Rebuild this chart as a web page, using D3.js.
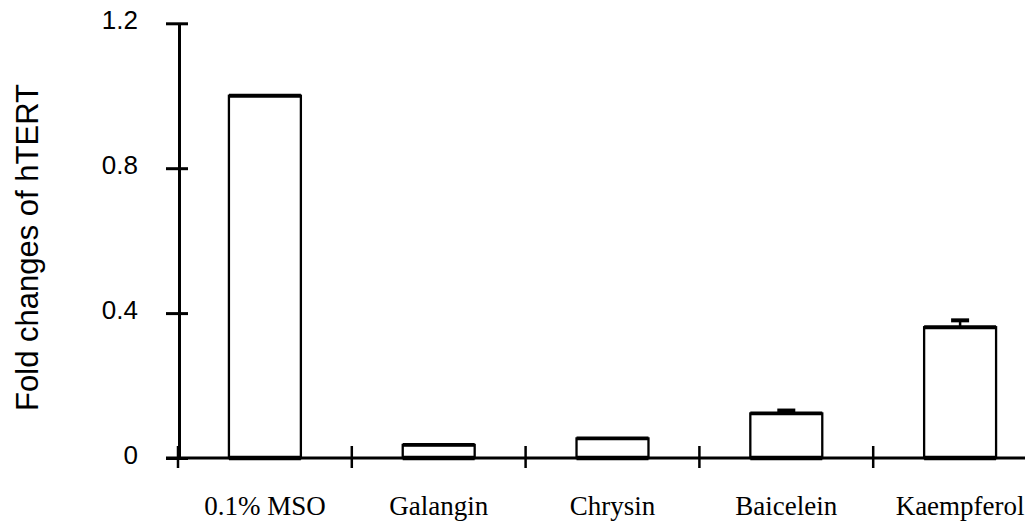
<!DOCTYPE html>
<html>
<head>
<meta charset="utf-8">
<script src="https://cdn.jsdelivr.net/npm/d3@7/dist/d3.min.js"></script>
<style>
  html, body { margin: 0; padding: 0; background: #fff; }
  svg { display: block; }
</style>
</head>
<body>
<svg id="chart" width="1025" height="521"></svg>
<script>
const categories = ["0.1% MSO", "Galangin", "Chrysin", "Baicelein", "Kaempferol"];
const values = [1.0, 0.036, 0.054, 0.123, 0.361];
const errors = [0, 0, 0, 0.008, 0.019];
const yTicks = [0, 0.4, 0.8, 1.2];
const yTickLabels = ["0", "0.4", "0.8", "1.2"];
const yTitle = "Fold changes of hTERT";

const svg = d3.select("#chart");
const W = 1025, H = 521;

const y = d3.scaleLinear().domain([0, 1.2]).range([458, 23.3]);
const x = d3.scaleBand().domain(categories).range([178, 1047])
  .paddingInner(0.586).paddingOuter(0.293);
const yAxisX = 179;

// Y axis
const yAxis = d3.axisLeft(y)
  .tickValues(yTicks)
  .tickFormat((d, i) => yTickLabels[i])
  .tickSize(13)
  .tickSizeOuter(0)
  .tickPadding(28);
const gy = svg.append("g").attr("transform", `translate(${yAxisX},0)`).call(yAxis);
gy.select(".domain").attr("stroke", "#000").attr("stroke-width", 3);
gy.selectAll(".tick line").attr("x1", 9).attr("x2", -13).attr("stroke", "#000").attr("stroke-width", 3);
gy.selectAll(".tick text")
  .attr("font-family", "Liberation Sans, Arial, sans-serif")
  .attr("font-size", 26)
  .attr("fill", "#000")
  .attr("dy", "0.2em");

// X axis line
const y0 = y(0);
svg.append("line")
  .attr("x1", 166).attr("x2", W)
  .attr("y1", y0).attr("y2", y0)
  .attr("stroke", "#000").attr("stroke-width", 3);

// boundary ticks
const boundaries = categories.map((c, i) => x.range()[0] + i * x.step());
svg.selectAll("line.bt").data(boundaries).enter().append("line")
  .attr("class", "bt")
  .attr("x1", d => d).attr("x2", d => d)
  .attr("y1", y0 - 12).attr("y2", y0 + 10)
  .attr("stroke", "#000").attr("stroke-width", 2.5);

// category labels
const xAxis = d3.axisBottom(x).tickSize(0).tickPadding(0);
const gx = svg.append("g").attr("transform", `translate(0,${y0})`).call(xAxis);
gx.select(".domain").remove();
gx.selectAll(".tick text")
  .attr("font-family", "Liberation Serif, Times New Roman, serif")
  .attr("font-size", 27)
  .attr("fill", "#000")
  .attr("y", 57)
  .attr("dy", 0);

// bars
const data = categories.map((c, i) => ({ c, v: values[i], e: errors[i] }));
const bars = svg.append("g");
bars.selectAll("rect").data(data).enter().append("rect")
  .attr("x", d => x(d.c))
  .attr("y", d => y(d.v))
  .attr("width", x.bandwidth())
  .attr("height", d => y0 - y(d.v))
  .attr("fill", "#fff")
  .attr("stroke", "#000")
  .attr("stroke-width", 2.3);
bars.selectAll("line.top").data(data).enter().append("line")
  .attr("class", "top")
  .attr("x1", d => x(d.c)).attr("x2", d => x(d.c) + x.bandwidth())
  .attr("y1", d => y(d.v)).attr("y2", d => y(d.v))
  .attr("stroke", "#000").attr("stroke-width", 3.8);
bars.selectAll("line.bot").data(data).enter().append("line")
  .attr("class", "bot")
  .attr("x1", d => x(d.c)).attr("x2", d => x(d.c) + x.bandwidth())
  .attr("y1", y0).attr("y2", y0)
  .attr("stroke", "#000").attr("stroke-width", 4.5);

// error bars
const errData = data.filter(d => d.e > 0);
const cx = d => x(d.c) + x.bandwidth() / 2;
bars.selectAll("line.stem").data(errData).enter().append("line")
  .attr("class", "stem")
  .attr("x1", cx).attr("x2", cx)
  .attr("y1", d => y(d.v)).attr("y2", d => y(d.v + d.e))
  .attr("stroke", "#000").attr("stroke-width", 2.5);
bars.selectAll("line.cap").data(errData).enter().append("line")
  .attr("class", "cap")
  .attr("x1", d => cx(d) - 9).attr("x2", d => cx(d) + 9)
  .attr("y1", d => y(d.v + d.e)).attr("y2", d => y(d.v + d.e))
  .attr("stroke", "#000").attr("stroke-width", 4);

// y title
svg.append("text")
  .attr("transform", `translate(38,247.5) rotate(-90)`)
  .attr("text-anchor", "middle")
  .attr("font-family", "Liberation Sans, Arial, sans-serif")
  .attr("font-size", 31)
  .attr("fill", "#000")
  .text(yTitle);
</script>
</body>
</html>
